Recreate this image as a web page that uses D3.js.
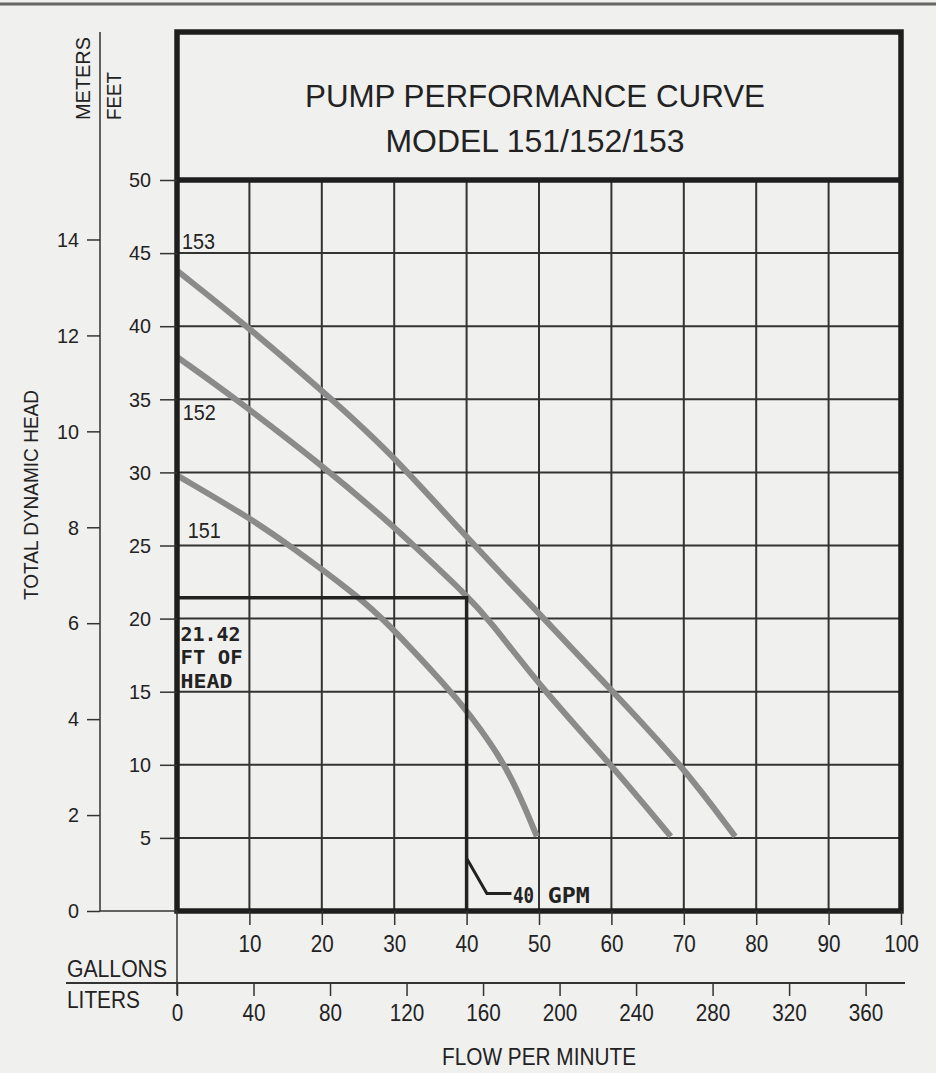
<!DOCTYPE html>
<html>
<head>
<meta charset="utf-8">
<script src="https://cdn.jsdelivr.net/npm/d3@7"></script>
<style>
  body { margin: 0; background: #f0f0ee; }
  svg { display: block; }
  text { font-family: "Liberation Sans", Arial, sans-serif; fill: #222; }
  .mono { font-family: "DejaVu Sans Mono", monospace; font-weight: bold; }
</style>
</head>
<body>
<script>
// pump curves (gpm, feet of head)
var curve151 = [[0, 29.8], [10, 26.9], [15.6, 25], [25.3, 21.4], [28.5, 20], [37.9, 15], [40, 13.7], [45.6, 10], [49.7, 5.1]];
var curve152 = [[0, 37.9], [8.2, 35], [20, 30.5], [29, 26.7], [32.7, 25], [40, 21.6], [43, 20], [50.4, 15.2], [59.8, 10.1], [68.2, 5.1]];
var curve153 = [[0, 43.8], [9.7, 40], [21.4, 35], [30, 31.1], [41, 25], [50.7, 20], [60.2, 15], [69.7, 10], [77.1, 5.1]];
var modelNames = ["151", "152", "153"];
// where each model name sits (gpm, feet)
var modelLabelPos = [[1.5, 25.5], [0.8, 33.6], [0.7, 45.3]];

var gallonTicks = [10, 20, 30, 40, 50, 60, 70, 80, 90, 100];
var literTicks = [0, 40, 80, 120, 160, 200, 240, 280, 320, 360];
var feetTicks = [5, 10, 15, 20, 25, 30, 35, 40, 45, 50];
var meterTicks = [0, 2, 4, 6, 8, 10, 12, 14];

var operatingHead = 21.42;
var operatingFlow = 40;
var headNote = ["21.42", "FT OF", "HEAD"];
// little hook pointing at the 40 gpm line
var flowHook = [[40, 3.6], [42.8, 1.2], [46.2, 1.2]];

var LITERS_PER_GAL = 3.785;
var FEET_PER_METER = 3.2808;

var W = 936, H = 1073;
var svg = d3.select("body").append("svg")
    .attr("width", W)
    .attr("height", H);

var x = d3.scaleLinear().domain([0, 100]).range([177, 901]);
var y = d3.scaleLinear().domain([0, 50]).range([911, 180]);
var xL = d3.scaleLinear().domain([0, 100 * LITERS_PER_GAL]).range([177, 901]);
var yM = d3.scaleLinear().domain([0, 50 / FEET_PER_METER]).range([911, 180]);

var frameTop = 32;

// scan edge at top of page
svg.append("line")
    .attr("x1", 0).attr("x2", W).attr("y1", 4).attr("y2", 4)
    .attr("stroke", "#666").attr("stroke-width", 3);

// grid
var grid = svg.append("g").attr("stroke", "#333").attr("stroke-width", 2);
grid.selectAll(".v").data(gallonTicks.slice(0, -1)).enter().append("line")
    .attr("x1", d => x(d)).attr("x2", d => x(d))
    .attr("y1", y(50)).attr("y2", y(0));
grid.selectAll(".h").data(feetTicks.slice(0, -1)).enter().append("line")
    .attr("x1", x(0)).attr("x2", x(100))
    .attr("y1", d => y(d)).attr("y2", d => y(d));

// curves
var line = d3.line()
    .x(d => x(d[0]))
    .y(d => y(d[1]))
    .curve(d3.curveBasis);

svg.selectAll(".curve").data([curve151, curve152, curve153]).enter().append("path")
    .attr("d", line)
    .attr("fill", "none")
    .attr("stroke", "#8b8b8b")
    .attr("stroke-width", 6);

svg.selectAll(".mlabel").data(modelNames).enter().append("text")
    .attr("x", (d, i) => x(modelLabelPos[i][0]))
    .attr("y", (d, i) => y(modelLabelPos[i][1]))
    .attr("font-size", 22)
    .attr("textLength", 33).attr("lengthAdjust", "spacingAndGlyphs")
    .text(d => d);

// operating point box
svg.append("path")
    .attr("d", "M" + x(0) + "," + y(operatingHead) + "H" + x(operatingFlow) + "V" + y(0))
    .attr("fill", "none").attr("stroke", "#222").attr("stroke-width", 3.5);

svg.selectAll(".note").data(headNote).enter().append("text")
    .attr("class", "mono")
    .attr("x", x(0.5))
    .attr("y", (d, i) => y(operatingHead) + 43 + i * 23.5)
    .attr("font-size", 20)
    .attr("textLength", (d, i) => [60, 62, 52][i]).attr("lengthAdjust", "spacingAndGlyphs")
    .text(d => d);

svg.append("path")
    .attr("d", d3.line().x(d => x(d[0])).y(d => y(d[1]))(flowHook))
    .attr("fill", "none").attr("stroke", "#222").attr("stroke-width", 3);
svg.append("text").attr("class", "mono")
    .attr("x", x(46.4)).attr("y", y(0.55))
    .attr("font-size", 22)
    .attr("textLength", 21).attr("lengthAdjust", "spacingAndGlyphs")
    .text("40");
svg.append("text").attr("class", "mono")
    .attr("x", x(51.2)).attr("y", y(0.55))
    .attr("font-size", 22)
    .attr("textLength", 42).attr("lengthAdjust", "spacingAndGlyphs")
    .text("GPM");

// frame
var frame = svg.append("g").attr("stroke", "#1e1e1e").attr("stroke-width", 5.5).attr("fill", "none");
frame.append("rect")
    .attr("x", x(0)).attr("y", frameTop)
    .attr("width", x(100) - x(0)).attr("height", y(0) - frameTop);
frame.append("line")
    .attr("x1", x(0)).attr("x2", x(100))
    .attr("y1", y(50)).attr("y2", y(50));

// title
svg.append("text")
    .attr("x", 535).attr("y", 107)
    .attr("text-anchor", "middle")
    .attr("font-size", 31)
    .attr("textLength", 460).attr("lengthAdjust", "spacingAndGlyphs")
    .text("PUMP PERFORMANCE CURVE");
svg.append("text")
    .attr("x", 535).attr("y", 152)
    .attr("text-anchor", "middle")
    .attr("font-size", 31)
    .attr("textLength", 299).attr("lengthAdjust", "spacingAndGlyphs")
    .text("MODEL 151/152/153");

// feet axis
var feetAxis = d3.axisLeft(y).tickValues(feetTicks).tickSize(17).tickPadding(9);
var gF = svg.append("g").attr("transform", "translate(" + x(0) + ",0)").call(feetAxis);
gF.select(".domain").remove();
gF.selectAll(".tick line").attr("stroke", "#333").attr("stroke-width", 1.5);
gF.selectAll(".tick text")
    .attr("font-size", 21).attr("fill", "#222")
    .attr("textLength", d => String(d).length * 11).attr("lengthAdjust", "spacingAndGlyphs");

// meters axis
var mx = 100;
var meterAxis = d3.axisLeft(yM).tickValues(meterTicks).tickSize(13).tickPadding(8);
var gM = svg.append("g").attr("transform", "translate(" + mx + ",0)").call(meterAxis);
gM.select(".domain").remove();
gM.selectAll(".tick line").attr("stroke", "#333").attr("stroke-width", 1.5);
gM.selectAll(".tick text")
    .attr("font-size", 21).attr("fill", "#222")
    .attr("textLength", d => String(d).length * 11).attr("lengthAdjust", "spacingAndGlyphs");
svg.append("line")
    .attr("x1", mx).attr("x2", mx).attr("y1", frameTop).attr("y2", yM(0))
    .attr("stroke", "#333").attr("stroke-width", 1.5);
svg.append("line")
    .attr("x1", mx).attr("x2", x(0)).attr("y1", yM(0)).attr("y2", yM(0))
    .attr("stroke", "#333").attr("stroke-width", 1.5);

svg.append("text")
    .attr("transform", "translate(90,120) rotate(-90)")
    .attr("font-size", 20)
    .attr("textLength", 83).attr("lengthAdjust", "spacingAndGlyphs")
    .text("METERS");
svg.append("text")
    .attr("transform", "translate(121,120) rotate(-90)")
    .attr("font-size", 20)
    .attr("textLength", 48).attr("lengthAdjust", "spacingAndGlyphs")
    .text("FEET");
svg.append("text")
    .attr("transform", "translate(38,495) rotate(-90)")
    .attr("text-anchor", "middle")
    .attr("font-size", 21)
    .attr("textLength", 210).attr("lengthAdjust", "spacingAndGlyphs")
    .text("TOTAL DYNAMIC HEAD");

// gallons axis
var galAxis = d3.axisBottom(x).tickValues(gallonTicks).tickSize(14).tickPadding(10);
var gG = svg.append("g").attr("transform", "translate(0," + y(0) + ")").call(galAxis);
gG.select(".domain").remove();
gG.selectAll(".tick line").attr("stroke", "#333").attr("stroke-width", 1.5);
gG.selectAll(".tick text")
    .attr("font-size", 24).attr("fill", "#222")
    .attr("textLength", d => String(d).length * 11.5).attr("lengthAdjust", "spacingAndGlyphs");

// liters axis
var ly = 983;
var litAxis = d3.axisBottom(xL).tickValues(literTicks).tickSize(13).tickPadding(9);
var gL = svg.append("g").attr("transform", "translate(0," + ly + ")").call(litAxis);
gL.select(".domain").remove();
gL.selectAll(".tick line").attr("stroke", "#333").attr("stroke-width", 1.5);
gL.selectAll(".tick text")
    .attr("font-size", 23).attr("fill", "#222")
    .attr("textLength", d => String(d).length * 11.5).attr("lengthAdjust", "spacingAndGlyphs");

svg.append("line")
    .attr("x1", 66).attr("x2", 905).attr("y1", ly).attr("y2", ly)
    .attr("stroke", "#333").attr("stroke-width", 2);
svg.append("line")
    .attr("x1", x(0)).attr("x2", x(0)).attr("y1", y(0)).attr("y2", 995)
    .attr("stroke", "#333").attr("stroke-width", 1.5);

svg.append("text")
    .attr("x", 67).attr("y", 977)
    .attr("font-size", 23)
    .attr("textLength", 100).attr("lengthAdjust", "spacingAndGlyphs")
    .text("GALLONS");
svg.append("text")
    .attr("x", 67).attr("y", 1008)
    .attr("font-size", 23)
    .attr("textLength", 73).attr("lengthAdjust", "spacingAndGlyphs")
    .text("LITERS");
svg.append("text")
    .attr("x", 539).attr("y", 1065)
    .attr("text-anchor", "middle")
    .attr("font-size", 23)
    .attr("textLength", 194).attr("lengthAdjust", "spacingAndGlyphs")
    .text("FLOW PER MINUTE");
</script>
</body>
</html>
